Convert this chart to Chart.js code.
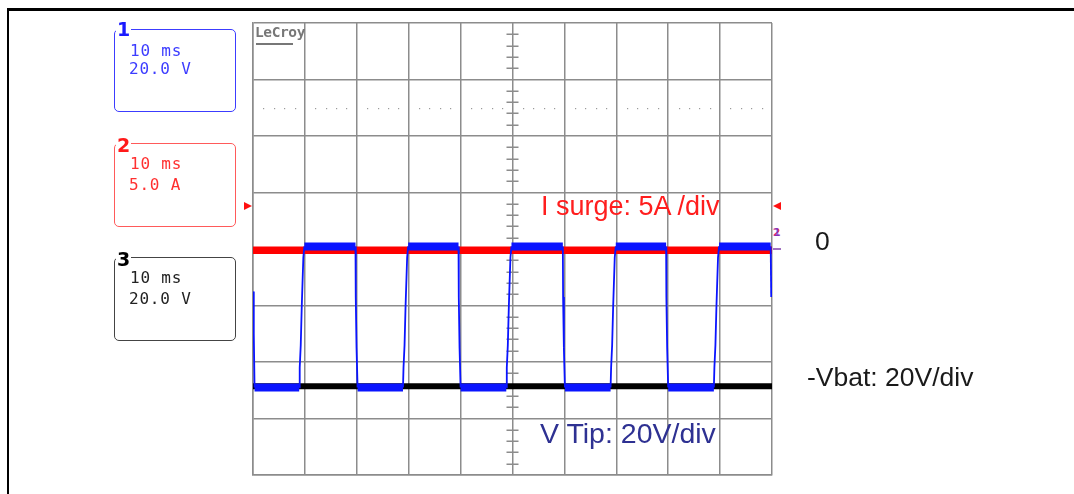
<!DOCTYPE html>
<html>
<head>
<meta charset="utf-8">
<script src="https://cdn.jsdelivr.net/npm/chart.js@4"></script>
<style>
  html,body{margin:0;padding:0;background:#fff;}
  #wrap{position:absolute;left:0;top:0;width:1074px;height:494px;overflow:hidden;}
  #wrap canvas{position:absolute;left:0;top:0;}
  .t{position:absolute;white-space:nowrap;}
  .ann{font-family:"Liberation Sans",Arial,sans-serif;font-size:26.5px;line-height:26px;}
  .mono{font-family:"DejaVu Sans Mono",monospace;font-size:16px;line-height:16px;letter-spacing:0.8px;}
  .box{position:absolute;border-radius:5px;border-width:1.5px;border-style:solid;box-sizing:border-box;}
  .lbl{position:absolute;font-family:"DejaVu Sans",sans-serif;font-weight:bold;font-size:19px;line-height:18px;background:#fff;padding:0 1px;}
</style>
</head>
<body>
<div id="wrap">
  <canvas id="c" width="1074" height="494"></canvas>

  <!-- page frame -->
  <div style="position:absolute;left:7px;top:8px;width:1067px;height:2.5px;background:#000;"></div>
  <div style="position:absolute;left:7px;top:8px;width:2px;height:486px;background:#000;"></div>

  <!-- channel boxes -->
  <div class="box" style="left:114px;top:29px;width:122px;height:83px;border-color:#3c3cff;"></div>
  <div class="lbl" style="left:116px;top:20px;color:#1a1aff;">1</div>
  <div class="t mono" style="left:130px;top:43px;color:#3c3cff;">10 ms</div>
  <div class="t mono" style="left:129px;top:61px;color:#3c3cff;">20.0 V</div>

  <div class="box" style="left:114px;top:143px;width:122px;height:84px;border-color:#ff5a5a;"></div>
  <div class="lbl" style="left:116px;top:136px;color:#ff1a1a;">2</div>
  <div class="t mono" style="left:130px;top:156px;color:#ff3030;">10 ms</div>
  <div class="t mono" style="left:129px;top:177px;color:#ff3030;">5.0 A</div>

  <div class="box" style="left:114px;top:257px;width:122px;height:84px;border-color:#444;"></div>
  <div class="lbl" style="left:116px;top:250px;color:#000;">3</div>
  <div class="t mono" style="left:130px;top:270px;color:#222;">10 ms</div>
  <div class="t mono" style="left:129px;top:291px;color:#222;">20.0 V</div>

  <!-- LeCroy logo -->
  <div class="t" style="left:255px;top:25px;font-family:'DejaVu Sans Mono',monospace;font-weight:bold;font-size:14.5px;line-height:14px;letter-spacing:-0.4px;color:#777;">LeCroy</div>
  <div style="position:absolute;left:256px;top:43px;width:37px;height:2px;background:#777;"></div>

  <!-- annotations -->
  <div class="t ann" style="left:541px;top:193px;color:#ff1e1e;font-size:27px;">I surge: 5A /div</div>
  <div class="t ann" style="left:540px;top:419px;color:#2e3192;font-size:28.5px;line-height:28px;">V Tip: 20V/div</div>
  <div class="t ann" style="left:815px;top:228px;color:#1a1a1a;">0</div>
  <div class="t ann" style="left:807px;top:364px;color:#1a1a1a;">-Vbat: 20V/div</div>
</div>

<script>
// ---- data (time in ms, 10 ms/div) ----
const vtipTime = [0, 0.15, 0.3,
  8.9, 9.0, 9.2, 9.4, 9.7, 9.9,
  19.75, 19.8, 19.95, 20.15,
  28.9, 29.0, 29.2, 29.4, 29.7, 29.9,
  39.6, 39.65, 39.8, 40.0,
  48.8, 48.9, 49.1, 49.3, 49.6, 49.8,
  59.7, 59.75, 59.9, 60.1,
  68.9, 69.0, 69.2, 69.4, 69.7, 69.9,
  79.6, 79.65, 79.8, 80.0,
  88.8, 88.9, 89.1, 89.3, 89.6, 89.8,
  99.75, 99.85];
const vtipVolts = [-15, -30, -49,
  -49, -42, -34, -20, -3, 0.9,
  0.9, -17, -35, -49,
  -49, -42, -34, -20, -3, 0.9,
  0.9, -17, -35, -49,
  -49, -42, -34, -20, -3, 0.9,
  0.9, -17, -35, -49,
  -49, -42, -34, -20, -3, 0.9,
  0.9, -17, -35, -49,
  -49, -42, -34, -20, -3, 0.9,
  0.9, -17];
const surgeTime = [0, 100];
const surgeAmps = [-0.1, -0.1];
const vbatTime = [0, 100];
const vbatVolts = [-48.6, -48.6];
const triggerAmps = 3.8;      // trigger level marker (channel 2)
const dottedLevelVolts = 50;  // dotted reference line

function pts(xs, ys){ return xs.map((x,i)=>({x:x, y:ys[i]})); }

const gridColor = '#8c8c8c';

const scopePlugin = {
  id: 'scope',
  beforeDatasetsDraw(chart){
    const {ctx, scales:{x, y}} = chart;
    ctx.save();
    // dotted reference line
    ctx.fillStyle = '#9a9a9a';
    const yd = Math.round(y.getPixelForValue(dottedLevelVolts));
    for (let t = 0; t <= 100; t += 2){
      if (t % 10 === 0) continue;
      const xp = Math.round(x.getPixelForValue(t));
      ctx.fillRect(xp, yd, 1.2, 1.2);
    }
    // minor ticks on the vertical centre axis
    ctx.strokeStyle = gridColor;
    ctx.lineWidth = 1.5;
    const xc = x.getPixelForValue(50);
    ctx.beginPath();
    for (let v = -80; v <= 80; v += 4){
      if (v % 20 === 0) continue;
      const yp = Math.round(y.getPixelForValue(v)) + 0.25;
      ctx.moveTo(xc - 6, yp); ctx.lineTo(xc + 6, yp);
    }
    ctx.stroke();
    ctx.restore();
  },
  afterDraw(chart){
    const {ctx, chartArea, scales:{yI}} = chart;
    ctx.save();
    const ty = yI.getPixelForValue(triggerAmps);
    ctx.fillStyle = '#ff1010';
    ctx.beginPath();
    ctx.moveTo(chartArea.left - 1, ty);
    ctx.lineTo(chartArea.left - 9, ty - 4);
    ctx.lineTo(chartArea.left - 9, ty + 4);
    ctx.closePath(); ctx.fill();
    ctx.beginPath();
    ctx.moveTo(chartArea.right + 1, ty);
    ctx.lineTo(chartArea.right + 9, ty - 4);
    ctx.lineTo(chartArea.right + 9, ty + 4);
    ctx.closePath(); ctx.fill();
    const gy = yI.getPixelForValue(0);
    ctx.fillStyle = '#a070c0';
    ctx.fillRect(chartArea.right + 1, Math.round(gy) - 1, 8, 2);
    ctx.font = 'bold 11px "DejaVu Sans", sans-serif';
    ctx.textAlign = 'center';
    ctx.textBaseline = 'middle';
    ctx.fillStyle = '#ff3a5a';
    ctx.fillText('2', chartArea.right + 4.5, gy - 16);
    ctx.fillStyle = 'rgba(40,40,255,0.55)';
    ctx.fillText('1', chartArea.right + 5, gy - 16);
    ctx.restore();
  }
};

function flatWidth(thick, thin){
  return ctx => (ctx.p0.parsed.y === ctx.p1.parsed.y ? thick : thin);
}

new Chart(document.getElementById('c'), {
  type: 'scatter',
  data: {
    datasets: [
      {
        label: 'V Tip',
        data: pts(vtipTime, vtipVolts),
        showLine: true,
        borderColor: '#0a14ff',
        borderWidth: 1.8,
        pointRadius: 0,
        tension: 0,
        order: 0,
        yAxisID: 'y',
        segment: { borderWidth: flatWidth(8, 1.8) }
      },
      {
        label: 'I surge',
        data: pts(surgeTime, surgeAmps),
        showLine: true,
        borderColor: '#ff0000',
        borderWidth: 7.5,
        pointRadius: 0,
        order: 1,
        yAxisID: 'yI'
      },
      {
        label: '-Vbat',
        data: pts(vbatTime, vbatVolts),
        showLine: true,
        borderColor: '#000000',
        borderWidth: 6,
        pointRadius: 0,
        order: 2,
        yAxisID: 'y'
      }
    ]
  },
  options: {
    responsive: false,
    animation: false,
    events: [],
    layout: { padding: { left: 253, right: 302, top: 23, bottom: 19 } },
    plugins: { legend: { display: false }, tooltip: { enabled: false } },
    scales: {
      x: {
        type: 'linear', min: 0, max: 100,
        ticks: { display: false, stepSize: 10 },
        grid: { color: gridColor, lineWidth: 1.5, drawTicks: false },
        border: { display: true, color: gridColor, width: 1.5 }
      },
      y: {
        type: 'linear', min: -80, max: 80,
        ticks: { display: false, stepSize: 20 },
        grid: { color: gridColor, lineWidth: 1.5, drawTicks: false },
        border: { display: true, color: gridColor, width: 1.5 }
      },
      yI: {
        type: 'linear', min: -20, max: 20, position: 'right',
        display: false
      }
    }
  },
  plugins: [scopePlugin]
});
</script>
</body>
</html>
